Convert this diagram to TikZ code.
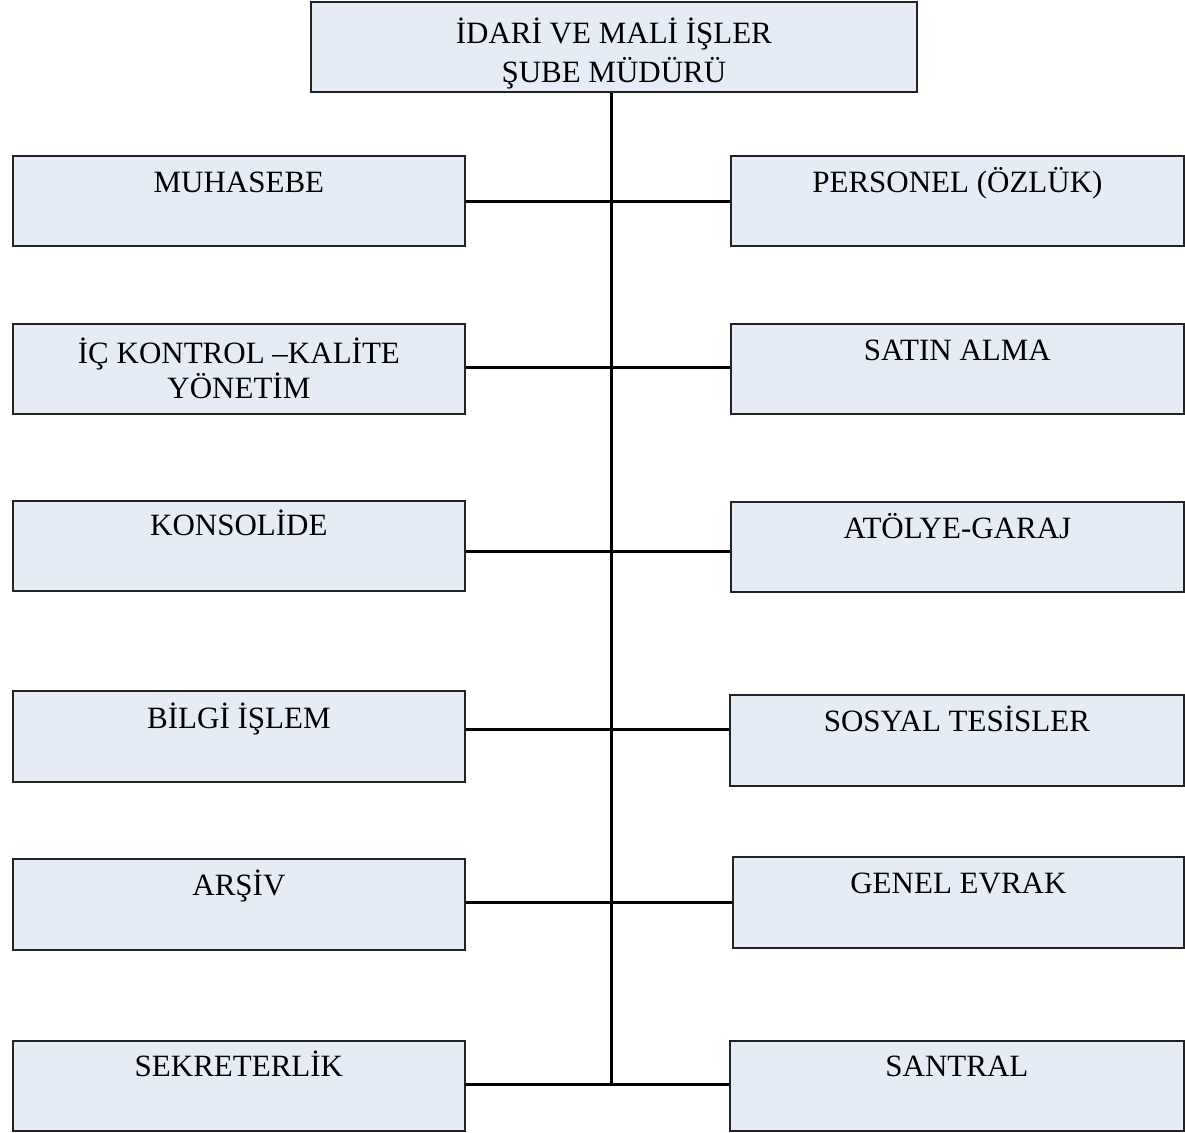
\documentclass[tikz,border=0pt]{standalone}
\usepackage{fontspec}
\setmainfont{Liberation Serif}
\usepackage{tikz}
\definecolor{boxfill}{RGB}{230,236,246}
\definecolor{boxline}{RGB}{35,35,35}

\begin{document}
\begin{tikzpicture}[x=1pt, y=-1pt,
		box_style/.style={rectangle, draw=boxline, line width=1.8pt, fill=boxfill, anchor=north west,
			inner sep=0pt, minimum width=452pt, minimum height=90pt, text height=37pt, text depth=53pt,
			align=center, font=\fontsize{31}{37}\selectfont},
		edge_style/.style={draw=black, line width=3pt}]

		\useasboundingbox (0,0) rectangle (1185,1132);

		\node[box_style, minimum width=606pt, text height=81pt, text depth=9pt,
			font=\fontsize{31}{39}\selectfont] (n0) at (310,1) {İDARİ VE MALİ İŞLER\\ŞUBE MÜDÜRÜ};

		\node[box_style] (n1) at (12,155)  {MUHASEBE};
		\node[box_style, text height=74pt, text depth=15pt,
			font=\fontsize{31}{35}\selectfont] (n2) at (12,323)  {İÇ KONTROL –KALİTE\\YÖNETİM};
		\node[box_style, text height=35pt, text depth=55pt] (n3) at (12,500)  {KONSOLİDE};
		\node[box_style, text height=38pt, text depth=53pt] (n4) at (12,690)  {BİLGİ İŞLEM};
		\node[box_style, text height=37pt, text depth=54pt] (n5) at (12,858)  {ARŞİV};
		\node[box_style, text height=36pt, text depth=54pt] (n6) at (12,1040) {SEKRETERLİK};

		\node[box_style, minimum width=453pt] (n7) at (730,155)  {PERSONEL (ÖZLÜK)};
		\node[box_style, minimum width=453pt] (n8) at (730,323)  {SATIN ALMA};
		\node[box_style, minimum width=453pt] (n9) at (730,501)  {ATÖLYE-GARAJ};
		\node[box_style, minimum width=454pt, text depth=54pt] (n10) at (729,694) {SOSYAL TESİSLER};
		\node[box_style, minimum width=451pt, text depth=54pt] (n11) at (732,856) {GENEL EVRAK};
		\node[box_style, minimum width=454pt, text height=36pt, text depth=54pt] (n12) at (729,1040) {SANTRAL};

		\coordinate (j1) at (611,201);
		\coordinate (j2) at (611,367);
		\coordinate (j3) at (611,551);
		\coordinate (j4) at (611,729);
		\coordinate (j5) at (611,902);
		\coordinate (j6) at (611,1084);

		\draw[edge_style] (n0.south -| j6) -- (j6);
		\draw[edge_style] (n1.east |- j1) -- (n7.west |- j1);
		\draw[edge_style] (n2.east |- j2) -- (n8.west |- j2);
		\draw[edge_style] (n3.east |- j3) -- (n9.west |- j3);
		\draw[edge_style] (n4.east |- j4) -- (n10.west |- j4);
		\draw[edge_style] (n5.east |- j5) -- (n11.west |- j5);
		\draw[edge_style] (n6.east |- j6) -- (n12.west |- j6);
\end{tikzpicture}
\end{document}
